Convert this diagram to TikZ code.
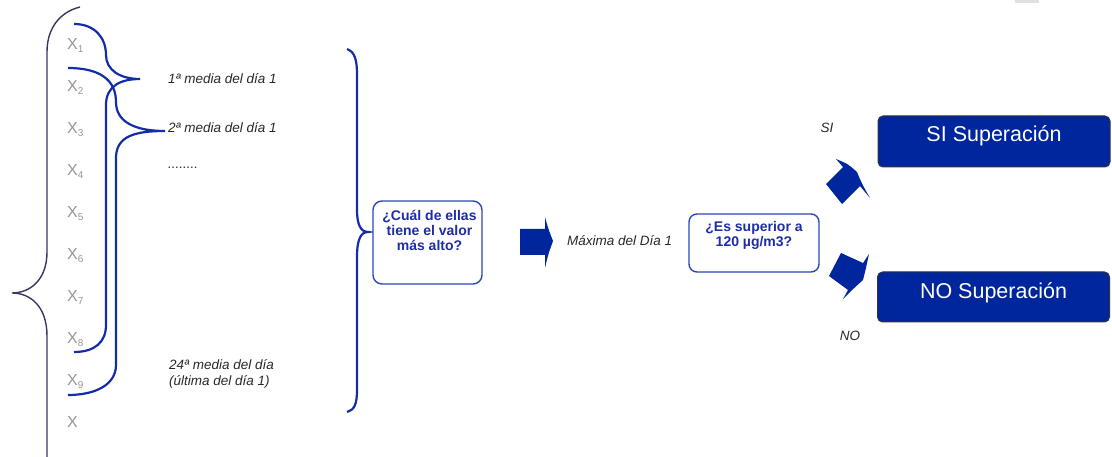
\documentclass[tikz,border=0pt]{standalone}
\usepackage{fontspec}
\setmainfont{Liberation Sans}
\usetikzlibrary{positioning}

\definecolor{navy}{RGB}{0,38,158}
\definecolor{braceblue}{RGB}{18,44,170}
\definecolor{darkbrace}{RGB}{55,55,95}
\definecolor{boxline}{RGB}{45,70,180}
\definecolor{qblue}{RGB}{30,45,165}
\definecolor{labelgray}{RGB}{150,150,150}
\definecolor{notegray}{RGB}{40,40,40}

\newcommand{\subsize}{\fontsize{10}{10}\selectfont}

\begin{document}
\begin{tikzpicture}[x=1pt, y=-1pt,
    xlabel/.style={anchor=base west, inner sep=0pt, text=labelgray, font=\fontsize{16}{16}\selectfont},
    note/.style={anchor=west, inner sep=0pt, text=notegray, font=\fontsize{13.5}{16}\selectfont\itshape, align=left},
    qbox/.style={draw=boxline, line width=1.4pt, rounded corners=9pt, fill=white},
    qtext/.style={inner sep=0pt, text=qblue, font=\fontsize{14}{15}\selectfont\bfseries, align=center},
    resbox/.style={draw=black!80, line width=1pt, fill=navy, rounded corners=5pt, minimum width=232pt},
    restext/.style={inner sep=0pt, text=white, font=\fontsize{21.5}{22}\selectfont},
    bluebrace/.style={draw=braceblue, line width=2.2pt},
  ]
    \useasboundingbox (0,0) rectangle (1112,457);
    \fill[black!12] (1015,0) rectangle (1039,3);

    % Draw values
    \foreach \i in {1,...,9}
      \node[xlabel] (x\i) at (67,{7.5+42*\i}) {X\raisebox{-3pt}{\subsize\i}};
    \node[xlabel] (x10) at (67,427.5) {X};

    % Draw braces
    \draw[darkbrace, line width=1.4pt] (80,7) .. controls (60,12) and (47,28) .. (47,52)
      -- (47,252) .. controls (47,280) and (30,293) .. (12,293)
      .. controls (30,293) and (47,306) .. (47,336) -- (47,460);
    \draw[bluebrace] (74,24) .. controls (95,24) and (106,38) .. (106,55)
      .. controls (106,70) and (120,79) .. (140,79)
      .. controls (122,79) and (106,85) .. (106,105) -- (106,325)
      .. controls (106,342) and (95,352) .. (74,352);
    \draw[bluebrace] (68,68) .. controls (100,68) and (116,80) .. (116,102)
      .. controls (116,122) and (135,131) .. (165,131)
      .. controls (135,131) and (116,136) .. (116,158) -- (116,365)
      .. controls (116,385) and (95,395) .. (68,395);
    \draw[bluebrace] (347,49) .. controls (355,52) and (357,60) .. (357,75) -- (357,210)
      .. controls (357,225) and (361,232) .. (368,232)
      .. controls (361,232) and (357,239) .. (357,257) -- (357,390)
      .. controls (357,405) and (354,410) .. (347,412);

    % Labels
    \node[note] (media1) at (168,79) {1ª media del día 1};
    \node[note] (media2) at (168,128) {2ª media del día 1};
    \node[note] (dots) at (168,168) {........};
    \node[note] (media24) at (169,374) {24ª media del día\\(última del día 1)};

    % Draw boxes
    \node[qbox, minimum width=109pt, minimum height=83pt] (cual) at (427.5,242.5) {};
    \node[qtext, below=10pt of cual.north, xshift=2pt] (cualtxt) {¿Cuál de ellas\\tiene el valor\\más alto?};
    \node[note] (maxima) at (567,241) {Máxima del Día 1};
    \node[qbox, minimum width=130pt, minimum height=58pt, rounded corners=8pt] (essup) at (754,243) {};
    \node[qtext, below=8pt of essup.north] (essuptxt) {¿Es superior a\\120 µg/m3?};
    \node[resbox, minimum height=51pt] (si) at (994,141.5) {};
    \node[restext] (sitxt) at ([yshift=5.5pt]si.center) {SI Superación};
    \node[resbox, minimum height=50pt] (no) at (993.5,297) {};
    \node[restext] (notxt) at ([yshift=4pt]no.center) {NO Superación};
    \node[note, anchor=center] (silbl) at (827,128) {SI};
    \node[note, anchor=center] (nolbl) at (850,336) {NO};

    % Draw arrows
    \fill[navy] (520,229) -- (545,229) -- (545,217) .. controls (548,228) .. (553,241)
      .. controls (548,255) .. (545,268) -- (545,255) -- (520,255) -- cycle;
    \fill[navy] (826,184) -- (843,167) -- (836,159) .. controls (848,164) .. (857,172)
      .. controls (862,184) .. (870,198) -- (860,186) -- (842,204) -- cycle;
    \fill[navy] (841,253) -- (863,263) -- (869,254) .. controls (866,268) .. (863,280)
      .. controls (852,290) .. (843,299) -- (848,290) -- (829,276) -- cycle;
\end{tikzpicture}
\end{document}
